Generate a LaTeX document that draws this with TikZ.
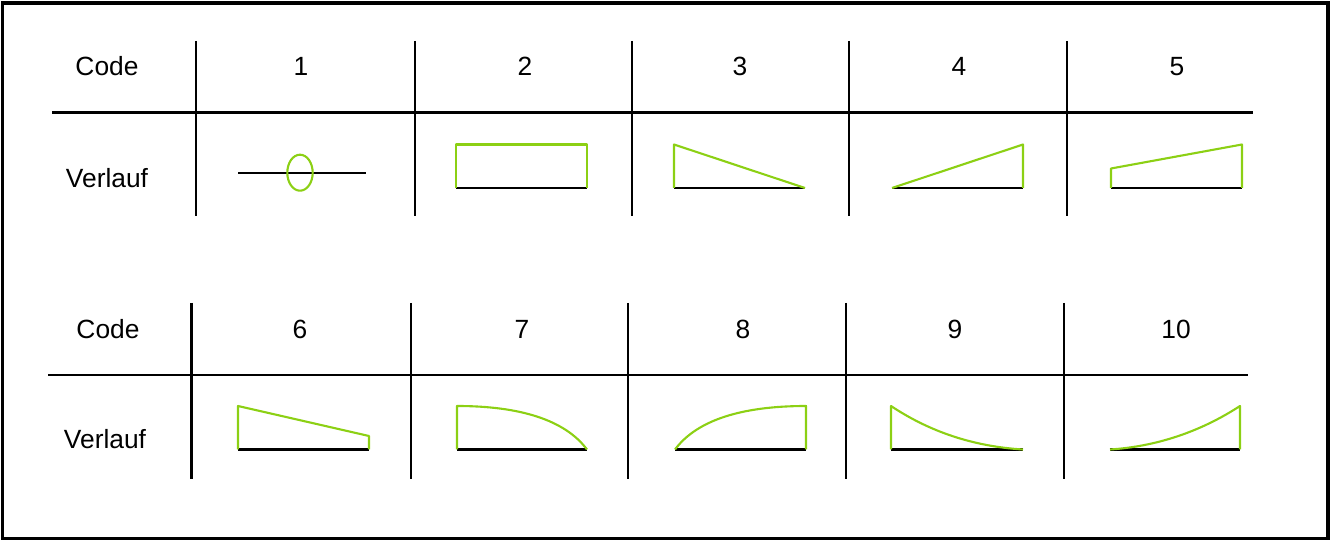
\documentclass[tikz,border=0pt]{standalone}
\usepackage{fontspec}
\setmainfont{Liberation Sans}
\definecolor{kurve}{RGB}{140,208,20}
\begin{document}
\begin{tikzpicture}
        [x=0.02cm, y=-0.02cm,
        every node/.style={inner sep=0pt, anchor=base, font=\fontsize{15}{18}\selectfont},
        rahmen/.style={line width=2pt},
        gitter/.style={line width=1.3pt},
        basis/.style={line width=1.3pt},
        verlauf/.style={draw=kurve, line width=1.2pt, line join=round}]
        \useasboundingbox (0,0) rectangle (1332,543);
        \draw[rahmen] (2.5,3) rectangle (1328,538.5);
        % Tabelle oben
        \draw[gitter] (52,112.5) -- (1253,112.5);
        \foreach \x in {196,415,632,849,1067}
            \draw[gitter] (\x,41) -- (\x,216);
        \node (codeA) at (107,76) {Code};
        \node (verlaufA) at (107,188) {Verlauf};
        \foreach \n/\x in {1/301,2/525,3/740,4/959,5/1177}
            \node (nr\n) at (\x,76) {\n};
        % Tabelle unten
        \draw[gitter] (48,375) -- (1248,375);
        \foreach \x in {191.5,411,628,846,1064}
            \draw[gitter] (\x,303) -- (\x,479);
        \node (codeB) at (108,338.5) {Code};
        \node (verlaufB) at (105,448.5) {Verlauf};
        \foreach \n/\x in {6/300,7/522,8/743,9/955,10/1176}
            \node (nr\n) at (\x,338.5) {\n};
        % Verlaeufe 1-5
        \draw[basis] (238,172.7) -- (366,172.7);
        \draw[verlauf] (300,172.7) ellipse [x radius=12.7, y radius=18];
        \foreach \a/\b in {456/587,674/805,892/1023,1111/1242}
            \draw[basis] (\a,188) -- (\b,188);
        \draw[verlauf] (456,188) -- (456,144.5) -- (587,144.5) -- (587,188);
        \draw[verlauf] (674,188) -- (674,144.5) -- (805,188);
        \draw[verlauf] (892,188) -- (1023,144.5) -- (1023,188);
        \draw[verlauf] (1111,188) -- (1111,168.5) -- (1242,144.5) -- (1242,188);
        % Verlaeufe 6-10
        \foreach \a/\b in {238/369,457/587,675/806,891/1023,1110/1240}
            \draw[basis] (\a,449.5) -- (\b,449.5);
        \draw[verlauf] (238,449.5) -- (238,406) -- (369,436) -- (369,449.5);
        \draw[verlauf] (457,449.5) -- (457,406) .. controls (520,406) and (565,420) .. (587,449.5);
        \draw[verlauf] (675,449.5) .. controls (697,420) and (742,406) .. (806,406) -- (806,449.5);
        \draw[verlauf] (891,449.5) -- (891,406) .. controls (930,432) and (974,446.5) .. (1023,449.5);
        \draw[verlauf] (1110,449.5) .. controls (1156,446.5) and (1200,432) .. (1240,406) -- (1240,449.5);
\end{tikzpicture}
\end{document}
